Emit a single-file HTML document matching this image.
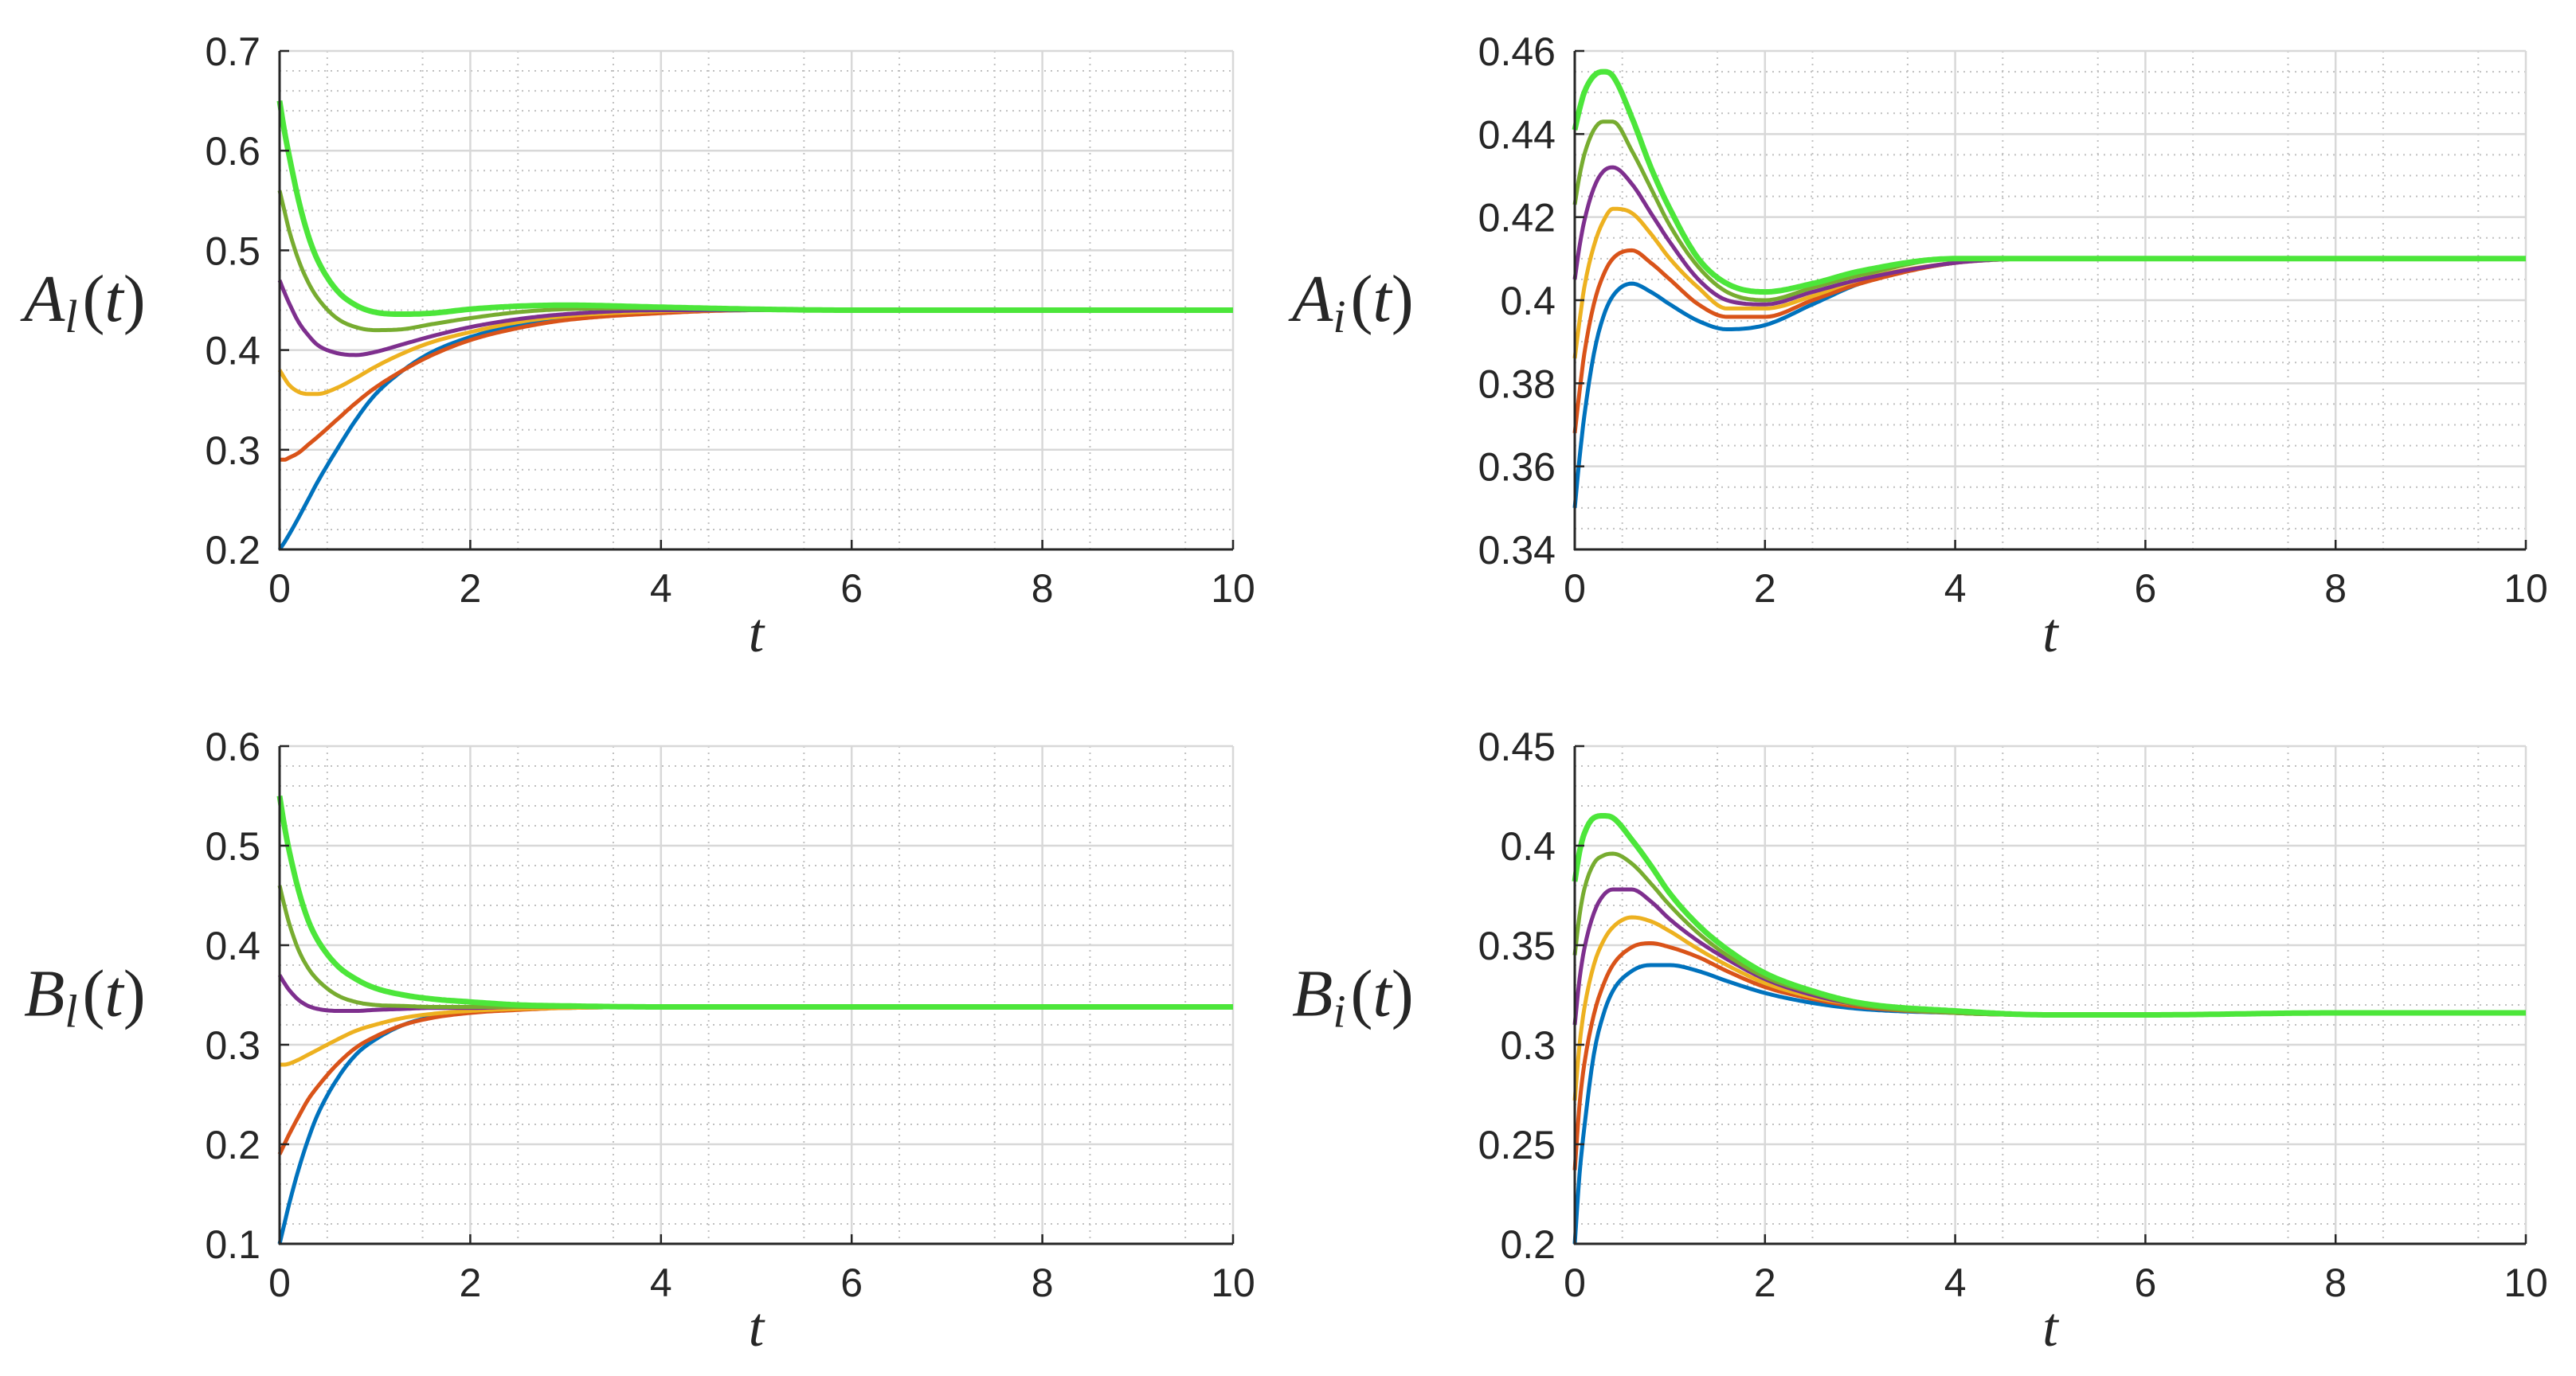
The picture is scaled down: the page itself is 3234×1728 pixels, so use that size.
<!DOCTYPE html>
<html><head><meta charset="utf-8"><style>
html,body{margin:0;padding:0;background:#fff;}
svg{display:block;}
</style></head><body>
<svg id="fig" width="3234" height="1728" viewBox="0 0 3234 1728" xmlns="http://www.w3.org/2000/svg"></svg>
<script>
const T = [0,0.05,0.1,0.2,0.3,0.4,0.6,0.8,1,1.3,1.6,2,2.5,3,4,5,6,8,10];
const xTicks = [0,2,4,6,8,10];
const colors = ['#0072BD','#D95319','#EDB120','#7E2F8E','#77AC30','#4CE63A'];

const AlBlue   = [.2,.207,.215,.232,.25,.268,.30,.33,.355,.38,.398,.413,.425,.432,.438,.44,.44,.44,.44];
const AlOrange = [.29,.29,.292,.297,.305,.313,.33,.347,.362,.38,.395,.41,.422,.43,.437,.44,.44,.44,.44];
const AlYellow = [.38,.372,.365,.358,.356,.356,.362,.372,.383,.397,.408,.418,.428,.434,.439,.44,.44,.44,.44];
const AlPurple = [.47,.458,.447,.428,.415,.405,.397,.395,.398,.406,.414,.423,.431,.436,.44,.44,.44,.44,.44];
const AlOlive  = [.56,.54,.52,.49,.468,.452,.432,.423,.42,.421,.426,.432,.438,.441,.442,.441,.44,.44,.44];
const AlGreen  = [.65,.62,.595,.55,.515,.49,.46,.445,.438,.436,.437,.441,.444,.445,.443,.441,.44,.44,.44];
const AlTicks  = [0.2,0.3,0.4,0.5,0.6,0.7];

const AiBlue   = [.35,.362,.372,.387,.396,.401,.404,.402,.399,.395,.393,.394,.399,.404,.409,.41,.41,.41,.41];
const AiOrange = [.368,.378,.387,.399,.406,.41,.412,.409,.405,.399,.396,.396,.4,.404,.409,.41,.41,.41,.41];
const AiYellow = [.386,.395,.403,.413,.419,.422,.421,.416,.41,.403,.398,.398,.401,.405,.409,.41,.41,.41,.41];
const AiPurple = [.405,.413,.419,.427,.431,.432,.428,.421,.414,.405,.4,.399,.402,.405,.409,.41,.41,.41,.41];
const AiOlive  = [.423,.43,.435,.441,.443,.443,.436,.427,.418,.408,.402,.4,.403,.406,.41,.41,.41,.41,.41];
const AiGreen  = [.441,.446,.45,.454,.455,.454,.444,.432,.422,.41,.404,.402,.404,.407,.41,.41,.41,.41,.41];
const AiTicks  = [0.34,0.36,0.38,0.4,0.42,0.44,0.46];

const BlBlue   = [.1,.12,.14,.175,.205,.23,.265,.29,.305,.32,.328,.333,.336,.337,.338,.338,.338,.338,.338];
const BlOrange = [.19,.2,.21,.228,.245,.258,.28,.297,.308,.32,.327,.332,.335,.337,.338,.338,.338,.338,.338];
const BlYellow = [.28,.28,.281,.285,.29,.295,.305,.314,.32,.327,.331,.334,.336,.337,.338,.338,.338,.338,.338];
const BlPurple = [.37,.362,.355,.345,.339,.336,.334,.334,.335,.336,.337,.337,.338,.338,.338,.338,.338,.338,.338];
const BlOlive  = [.46,.44,.422,.395,.377,.365,.35,.343,.34,.339,.338,.338,.338,.338,.338,.338,.338,.338,.338];
const BlGreen  = [.55,.52,.495,.455,.425,.405,.38,.366,.357,.35,.346,.343,.34,.339,.338,.338,.338,.338,.338];
const BlTicks  = [0.1,0.2,0.3,0.4,0.5,0.6];

const BiBlue   = [.2,.235,.258,.295,.315,.327,.337,.340,.340,.337,.332,.326,.321,.318,.316,.315,.315,.316,.316];
const BiOrange = [.237,.27,.29,.315,.33,.34,.349,.351,.349,.344,.337,.329,.323,.319,.316,.315,.315,.316,.316];
const BiYellow = [.272,.3,.318,.34,.352,.359,.364,.362,.357,.348,.34,.331,.324,.32,.316,.315,.315,.316,.316];
const BiPurple = [.31,.333,.348,.366,.375,.378,.378,.372,.363,.352,.343,.333,.325,.32,.316,.315,.315,.316,.316];
const BiOlive  = [.345,.365,.378,.391,.395,.396,.391,.381,.37,.356,.345,.334,.326,.32,.316,.315,.315,.316,.316];
const BiGreen  = [.382,.397,.406,.414,.415,.414,.403,.39,.376,.36,.348,.336,.327,.321,.317,.315,.315,.316,.316];
const BiTicks  = [0.2,0.25,0.3,0.35,0.4,0.45];

const NS='http://www.w3.org/2000/svg';
const svg=document.getElementById('fig');
function mk(tag,attrs,parent){const e=document.createElementNS(NS,tag);for(const k in attrs)e.setAttribute(k,attrs[k]);(parent||svg).appendChild(e);return e;}

function monotone(xs,ys){
  const n=xs.length,d=[],m=[];
  for(let i=0;i<n-1;i++)d.push((ys[i+1]-ys[i])/(xs[i+1]-xs[i]));
  m[0]=d[0];m[n-1]=d[n-2];
  for(let i=1;i<n-1;i++){m[i]=(d[i-1]*d[i]<=0)?0:(d[i-1]+d[i])/2;}
  for(let i=0;i<n-1;i++){if(d[i]===0){m[i]=0;m[i+1]=0;continue;}
    const a=m[i]/d[i],b=m[i+1]/d[i],s=a*a+b*b;if(s>9){const t=3/Math.sqrt(s);m[i]=t*a*d[i];m[i+1]=t*b*d[i];}}
  return {d,m};
}

function panel(cfg){
  const g=mk('g',{});
  
  
  const {x0,x1,y0,y1,ymin,ymax,ticks,minor}=cfg;
  const X=v=>x0+(v-0)/(10-0)*(x1-x0);
  const Y=v=>y1-(v-ymin)/(ymax-ymin)*(y1-y0);
  const grid=mk('g',{},g);
  
  
  for(let v=0.5;v<10;v+=1){mk('line',{x1:X(v),x2:X(v),y1:y0,y2:y1,stroke:'#c0c0c0','stroke-width':2,'stroke-dasharray':'2 6'},grid);}
  const nMin=Math.round((ymax-ymin)/minor);
  for(let i=1;i<nMin;i++){const v=ymin+i*minor;if(Math.abs(((v-ymin)/(ticks[1]-ticks[0]))-Math.round((v-ymin)/(ticks[1]-ticks[0])))<1e-6)continue;
    mk('line',{x1:x0,x2:x1,y1:Y(v),y2:Y(v),stroke:'#c0c0c0','stroke-width':2,'stroke-dasharray':'2 6'},grid);}
  xTicks.forEach(v=>{if(v>0)mk('line',{x1:X(v),x2:X(v),y1:y0,y2:y1,stroke:'#d8d8d8','stroke-width':2.5},grid);});
  ticks.forEach(v=>{if(v>ymin+1e-9)mk('line',{x1:x0,x2:x1,y1:Y(v),y2:Y(v),stroke:'#d8d8d8','stroke-width':2.5},grid);});
  cfg.series.forEach((s,k)=>{
    const {d,m}=monotone(T,s);
    let p='';
    for(let i=0;i<T.length-1;i++){
      const h=T[i+1]-T[i],steps=Math.max(4,Math.ceil(h*40));
      for(let j=0;j<=steps;j++){
        if(i>0&&j===0)continue;
        const t=j/steps,h00=2*t*t*t-3*t*t+1,h10=t*t*t-2*t*t+t,h01=-2*t*t*t+3*t*t,h11=t*t*t-t*t;
        const v=h00*s[i]+h10*h*m[i]+h01*s[i+1]+h11*h*m[i+1];
        const xv=T[i]+t*h;
        p+=(p?'L':'M')+X(xv).toFixed(1)+' '+Y(v).toFixed(1);
      }
    }
    const path=mk('path',{d:p,fill:'none',stroke:colors[k],'stroke-width':k===5?7:5,'stroke-linejoin':'round'},g);
    
    
  });
  mk('line',{x1:x0,x2:x0,y1:y0,y2:y1+1,stroke:'#262626','stroke-width':3},g);
  mk('line',{x1:x0-1,x2:x1,y1:y1,y2:y1,stroke:'#262626','stroke-width':3},g);
  xTicks.forEach(v=>{
    mk('line',{x1:X(v),x2:X(v),y1:y1,y2:y1-12,stroke:'#262626','stroke-width':2.5},g);
    const t=mk('text',{x:X(v),y:y1+66,'text-anchor':'middle','font-family':'Liberation Sans, sans-serif','font-size':50,fill:'#262626'},g);
    t.textContent=v;
    
    
  });
  ticks.forEach(v=>{
    mk('line',{x1:x0,x2:x0+12,y1:Y(v),y2:Y(v),stroke:'#262626','stroke-width':2.5},g);
    const t=mk('text',{x:x0-24,y:Y(v)+18,'text-anchor':'end','font-family':'Liberation Sans, sans-serif','font-size':50,fill:'#262626'},g);
    t.textContent=String(+v.toFixed(2));
    
    
  });
  const xl=mk('text',{x:(x0+x1)/2,y:y1+128,'text-anchor':'middle','font-family':'Liberation Serif, serif','font-style':'italic','font-size':70,fill:'#262626'},g);
  xl.textContent='t';
  
  
  const yl=mk('text',{x:cfg.ylx,y:(y0+y1)/2+26,'font-family':'Liberation Serif, serif','font-size':84,fill:'#262626'},g);
  
  
  const a=mk('tspan',{'font-style':'italic'},yl);a.textContent=cfg.sym;
  const b=mk('tspan',{'font-style':'italic','font-size':58,dy:14},yl);b.textContent=cfg.sub;
  const c=mk('tspan',{dy:-14,dx:6},yl);c.textContent='(';
  const d2=mk('tspan',{'font-style':'italic'},yl);d2.textContent='t';
  const e=mk('tspan',{},yl);e.textContent=')';
}

panel({name:'panel-al',x0:351,x1:1548,y0:64,y1:690,ymin:0.2,ymax:0.7,ticks:AlTicks,minor:0.02,ylx:30,sym:'A',sub:'l',
  series:[AlBlue,AlOrange,AlYellow,AlPurple,AlOlive,AlGreen]});
panel({name:'panel-ai',x0:1977,x1:3171,y0:64,y1:690,ymin:0.34,ymax:0.46,ticks:AiTicks,minor:0.005,ylx:1622,sym:'A',sub:'i',
  series:[AiBlue,AiOrange,AiYellow,AiPurple,AiOlive,AiGreen]});
panel({name:'panel-bl',x0:351,x1:1548,y0:937,y1:1562,ymin:0.1,ymax:0.6,ticks:BlTicks,minor:0.02,ylx:30,sym:'B',sub:'l',
  series:[BlBlue,BlOrange,BlYellow,BlPurple,BlOlive,BlGreen]});
panel({name:'panel-bi',x0:1977,x1:3171,y0:937,y1:1562,ymin:0.2,ymax:0.45,ticks:BiTicks,minor:0.01,ylx:1622,sym:'B',sub:'i',
  series:[BiBlue,BiOrange,BiYellow,BiPurple,BiOlive,BiGreen]});
</script>
</body></html>
